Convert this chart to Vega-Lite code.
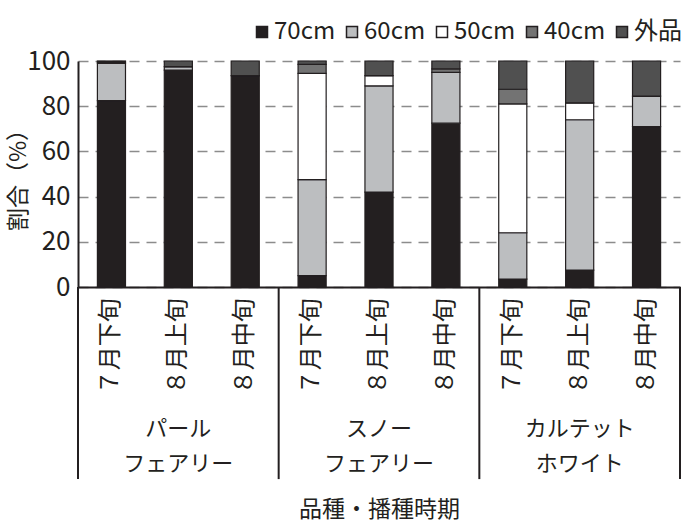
{
  "$schema": "https://vega.github.io/schema/vega-lite/v6.json",
  "width": 602,
  "height": 226,
  "autosize": {"type": "none"},
  "padding": {"left": 78, "top": 61, "right": 1, "bottom": 239},
  "config": {
    "font": "Noto Sans CJK JP",
    "view": {"stroke": null},
    "axis": {"labelColor": "#231f20", "titleColor": "#231f20", "titleFontWeight": "normal"}
  },
  "datasets": {
    "sizes": [
      {"size": "70cm", "rank": 1},
      {"size": "60cm", "rank": 2},
      {"size": "50cm", "rank": 3},
      {"size": "40cm", "rank": 4},
      {"size": "外品", "rank": 5}
    ],
    "bars": [
      {"variety": "パール フェアリー", "period": "７月下旬", "size": "70cm", "pct": 82.5},
      {"variety": "パール フェアリー", "period": "７月下旬", "size": "60cm", "pct": 16.5},
      {"variety": "パール フェアリー", "period": "７月下旬", "size": "50cm", "pct": 0},
      {"variety": "パール フェアリー", "period": "７月下旬", "size": "40cm", "pct": 0.5},
      {"variety": "パール フェアリー", "period": "７月下旬", "size": "外品", "pct": 0.5},
      {"variety": "パール フェアリー", "period": "８月上旬", "size": "70cm", "pct": 96},
      {"variety": "パール フェアリー", "period": "８月上旬", "size": "60cm", "pct": 1.5},
      {"variety": "パール フェアリー", "period": "８月上旬", "size": "50cm", "pct": 0},
      {"variety": "パール フェアリー", "period": "８月上旬", "size": "40cm", "pct": 0},
      {"variety": "パール フェアリー", "period": "８月上旬", "size": "外品", "pct": 2.5},
      {"variety": "パール フェアリー", "period": "８月中旬", "size": "70cm", "pct": 93.5},
      {"variety": "パール フェアリー", "period": "８月中旬", "size": "60cm", "pct": 0},
      {"variety": "パール フェアリー", "period": "８月中旬", "size": "50cm", "pct": 0},
      {"variety": "パール フェアリー", "period": "８月中旬", "size": "40cm", "pct": 0},
      {"variety": "パール フェアリー", "period": "８月中旬", "size": "外品", "pct": 6.5},
      {"variety": "スノー フェアリー", "period": "７月下旬", "size": "70cm", "pct": 5},
      {"variety": "スノー フェアリー", "period": "７月下旬", "size": "60cm", "pct": 42.5},
      {"variety": "スノー フェアリー", "period": "７月下旬", "size": "50cm", "pct": 47},
      {"variety": "スノー フェアリー", "period": "７月下旬", "size": "40cm", "pct": 4},
      {"variety": "スノー フェアリー", "period": "７月下旬", "size": "外品", "pct": 1.5},
      {"variety": "スノー フェアリー", "period": "８月上旬", "size": "70cm", "pct": 42},
      {"variety": "スノー フェアリー", "period": "８月上旬", "size": "60cm", "pct": 47},
      {"variety": "スノー フェアリー", "period": "８月上旬", "size": "50cm", "pct": 4.5},
      {"variety": "スノー フェアリー", "period": "８月上旬", "size": "40cm", "pct": 0},
      {"variety": "スノー フェアリー", "period": "８月上旬", "size": "外品", "pct": 6.5},
      {"variety": "スノー フェアリー", "period": "８月中旬", "size": "70cm", "pct": 72.5},
      {"variety": "スノー フェアリー", "period": "８月中旬", "size": "60cm", "pct": 22.5},
      {"variety": "スノー フェアリー", "period": "８月中旬", "size": "50cm", "pct": 0},
      {"variety": "スノー フェアリー", "period": "８月中旬", "size": "40cm", "pct": 1.5},
      {"variety": "スノー フェアリー", "period": "８月中旬", "size": "外品", "pct": 3.5},
      {"variety": "カルテット ホワイト", "period": "７月下旬", "size": "70cm", "pct": 3.5},
      {"variety": "カルテット ホワイト", "period": "７月下旬", "size": "60cm", "pct": 20.5},
      {"variety": "カルテット ホワイト", "period": "７月下旬", "size": "50cm", "pct": 57},
      {"variety": "カルテット ホワイト", "period": "７月下旬", "size": "40cm", "pct": 6.5},
      {"variety": "カルテット ホワイト", "period": "７月下旬", "size": "外品", "pct": 12.5},
      {"variety": "カルテット ホワイト", "period": "８月上旬", "size": "70cm", "pct": 7.5},
      {"variety": "カルテット ホワイト", "period": "８月上旬", "size": "60cm", "pct": 66.5},
      {"variety": "カルテット ホワイト", "period": "８月上旬", "size": "50cm", "pct": 7.5},
      {"variety": "カルテット ホワイト", "period": "８月上旬", "size": "40cm", "pct": 0},
      {"variety": "カルテット ホワイト", "period": "８月上旬", "size": "外品", "pct": 18.5},
      {"variety": "カルテット ホワイト", "period": "８月中旬", "size": "70cm", "pct": 71},
      {"variety": "カルテット ホワイト", "period": "８月中旬", "size": "60cm", "pct": 13.5},
      {"variety": "カルテット ホワイト", "period": "８月中旬", "size": "50cm", "pct": 0},
      {"variety": "カルテット ホワイト", "period": "８月中旬", "size": "40cm", "pct": 0},
      {"variety": "カルテット ホワイト", "period": "８月中旬", "size": "外品", "pct": 15.5}
    ],
    "groups": [
      {"variety": "パール フェアリー"},
      {"variety": "スノー フェアリー"},
      {"variety": "カルテット ホワイト"}
    ]
  },
  "layer": [
    {
      "data": {"name": "bars"},
      "transform": [{"lookup": "size", "from": {"data": {"name": "sizes"}, "key": "size", "fields": ["rank"]}}],
      "mark": {"type": "bar", "stroke": "#231f20", "strokeWidth": 1.2},
      "encoding": {
        "x": {
          "field": "variety", "type": "nominal",
          "sort": ["パール フェアリー", "スノー フェアリー", "カルテット ホワイト"],
          "scale": {"paddingInner": 0, "paddingOuter": 0},
          "axis": {
            "title": "品種・播種時期", "titleFontSize": 23, "titlePadding": 24,
            "labelAngle": 0, "labelFontSize": 22, "labelExpr": "split(datum.label, ' ')",
            "labelPadding": 131, "labelLineHeight": 35,
            "ticks": false, "domain": true, "domainColor": "#231f20", "domainWidth": 2, "grid": false
          }
        },
        "xOffset": {
          "field": "period", "type": "nominal",
          "sort": ["７月下旬", "８月上旬", "８月中旬"],
          "scale": {"paddingInner": 0.58, "paddingOuter": 0.29}
        },
        "y": {
          "field": "pct", "type": "quantitative", "stack": "zero",
          "scale": {"domain": [0, 100]},
          "axis": {
            "title": "割合（%）", "titleFontSize": 23, "titlePadding": -4,
            "values": [0, 20, 40, 60, 80, 100], "labelFontSize": 26, "labelPadding": 8,
            "ticks": false, "domain": true, "domainColor": "#231f20", "domainWidth": 2,
            "grid": true, "gridDash": [10, 7], "gridColor": "#8c8c8c", "gridWidth": 1.5
          }
        },
        "order": {"field": "rank", "type": "quantitative", "sort": "ascending"},
        "color": {
          "field": "size", "type": "nominal",
          "sort": ["70cm", "60cm", "50cm", "40cm", "外品"],
          "scale": {
            "domain": ["70cm", "60cm", "50cm", "40cm", "外品"],
            "range": ["#231f20", "#bcbec0", "#ffffff", "#737373", "#505050"]
          },
          "legend": {
            "orient": "none", "legendX": 172, "legendY": -41, "direction": "horizontal",
            "title": null, "symbolType": "square", "symbolSize": 121,
            "symbolStrokeColor": "#231f20", "symbolStrokeWidth": 1.5,
            "labelFontSize": 24, "labelOffset": 0, "columnPadding": 4, "labelColor": "#231f20"
          }
        }
      }
    },
    {
      "data": {"name": "bars"},
      "transform": [{"filter": "datum.size === '70cm'"}],
      "mark": {"type": "text", "angle": 270, "align": "right", "baseline": "middle", "fontSize": 24, "color": "#231f20"},
      "encoding": {
        "x": {"field": "variety", "type": "nominal", "sort": ["パール フェアリー", "スノー フェアリー", "カルテット ホワイト"]},
        "xOffset": {"field": "period", "type": "nominal", "sort": ["７月下旬", "８月上旬", "８月中旬"]},
        "y": {"datum": -5, "type": "quantitative"},
        "text": {"field": "period"}
      }
    },
    {
      "data": {"name": "groups"},
      "mark": {"type": "rule", "color": "#231f20", "strokeWidth": 2},
      "encoding": {
        "x": {"field": "variety", "type": "nominal", "bandPosition": 0, "sort": ["パール フェアリー", "スノー フェアリー", "カルテット ホワイト"]},
        "y": {"datum": 0, "type": "quantitative"},
        "y2": {"datum": -85}
      }
    },
    {
      "data": {"name": "groups"},
      "transform": [{"filter": "datum.variety === 'カルテット ホワイト'"}],
      "mark": {"type": "rule", "color": "#231f20", "strokeWidth": 2},
      "encoding": {
        "x": {"field": "variety", "type": "nominal", "bandPosition": 1, "sort": ["パール フェアリー", "スノー フェアリー", "カルテット ホワイト"]},
        "y": {"datum": 0, "type": "quantitative"},
        "y2": {"datum": -85}
      }
    }
  ]
}
